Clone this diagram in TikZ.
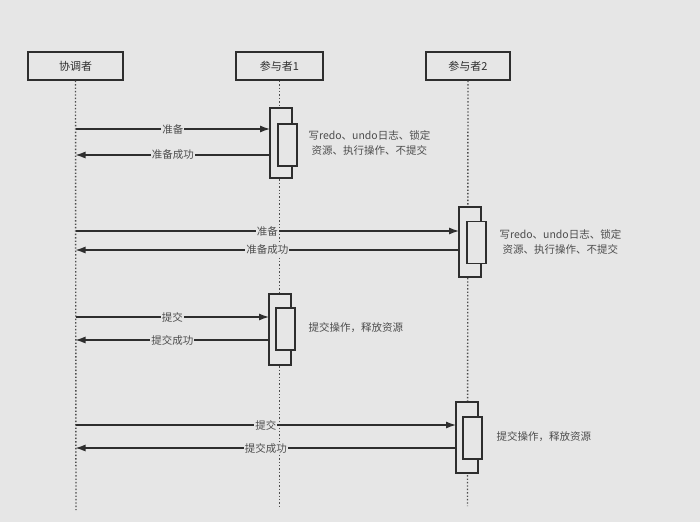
\documentclass[tikz,border=0pt]{standalone}
\usepackage{fontspec}
\setmainfont{Noto Sans CJK SC}
\usetikzlibrary{arrows.meta, positioning}
\definecolor{bggray}{HTML}{E6E6E6}
\definecolor{inkgray}{HTML}{2E2E2E}

\begin{document}
\begin{tikzpicture}[x=1pt, y=-1pt,
  actor/.style={draw=inkgray, line width=1.4pt, minimum width=95pt, minimum height=28pt, inner sep=0pt, font=\fontsize{11}{13}\selectfont, text=inkgray},
  lifeline/.style={dotted, line width=1.4pt, draw=inkgray!85},
  actbox/.style={draw=inkgray, line width=1.2pt, fill=bggray, inner sep=0pt, outer sep=0pt, minimum width=22pt},
  actinner/.style={actbox, minimum width=19pt, minimum height=42pt},
  msg/.style={line width=1.2pt, draw=inkgray, -{Latex[length=10pt, width=7pt]}},
  lbl/.style={fill=bggray, inner sep=1pt, font=\fontsize{10.5}{11}\selectfont, text=inkgray!85},
  note/.style={anchor=west, align=center, font=\fontsize{10.5}{15}\selectfont, text=inkgray!85}
]
  \useasboundingbox[fill=bggray] (0,0) rectangle (700,522);
  % actors
  \node[actor] (coord) at (75.5,66) {协调者};
  \node[actor, minimum width=87pt] (part1) at (279.5,66) {参与者1};
  \node[actor, minimum width=84pt] (part2) at (468,66) {参与者2};
  % lifelines
  \coordinate (coordEnd) at (76,510);
  \coordinate (part1End) at (279.5,507);
  \coordinate (part2End) at (467.5,506);
  \draw[lifeline] (coord.south) -- (coordEnd);
  \draw[lifeline] (part1.south) -- (part1End);
  \draw[lifeline] (part2.south) -- (part2End);
  % activations
  \node[actbox, minimum height=70pt] (act1) at (281,143) {};
  \node[actinner] (act1in) at (287.5,145) {};
  \node[actbox, minimum height=70pt] (act2) at (470,242) {};
  \node[actinner] (act2in) at (476.5,242.5) {};
  \node[actbox, minimum height=71pt] (act3) at (280,329.5) {};
  \node[actinner] (act3in) at (285.5,329) {};
  \node[actbox, minimum height=71pt] (act4) at (467,437.5) {};
  \node[actinner] (act4in) at (472.5,438) {};
  % message heights
  \coordinate (y1) at (0,129);
  \coordinate (y2) at (0,155);
  \coordinate (y3) at (0,231);
  \coordinate (y4) at (0,250);
  \coordinate (y5) at (0,317);
  \coordinate (y6) at (0,340);
  \coordinate (y7) at (0,425);
  \coordinate (y8) at (0,448);
  % messages
  \draw[msg] (coord |- y1) -- node[lbl] {准备} (act1.west |- y1);
  \draw[msg] (act1.west |- y2) -- node[lbl] {准备成功} (coord |- y2);
  \draw[msg] (coord |- y3) -- node[lbl] {准备} (act2.west |- y3);
  \draw[msg] (act2.west |- y4) -- node[lbl] {准备成功} (coord |- y4);
  \draw[msg] (coord |- y5) -- node[lbl] {提交} (act3.west |- y5);
  \draw[msg] (act3.west |- y6) -- node[lbl] {提交成功} (coord |- y6);
  \draw[msg] (coord |- y7) -- node[lbl] {提交} (act4.west |- y7);
  \draw[msg] (act4.west |- y8) -- node[lbl] {提交成功} (coord |- y8);
  % notes
  \node[note] (note1) at (305,143) {写redo、undo日志、锁定\\资源、执行操作、不提交};
  \node[note] (note2) at (496,242) {写redo、undo日志、锁定\\资源、执行操作、不提交};
  \node[note] (note3) at (305,328) {提交操作，释放资源};
  \node[note] (note4) at (493,437) {提交操作，释放资源};
\end{tikzpicture}
\end{document}
